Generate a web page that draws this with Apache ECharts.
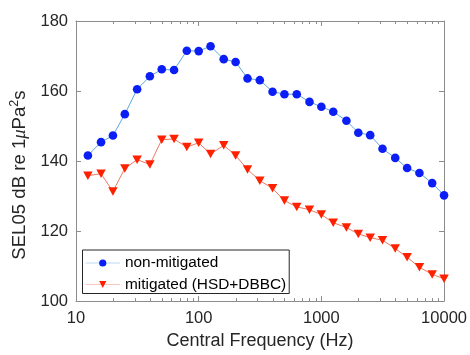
<!DOCTYPE html>
<html><head><meta charset="utf-8">
<script src="https://cdn.jsdelivr.net/npm/echarts@6/dist/echarts.min.js"></script>
<style>html,body{margin:0;padding:0;background:#fff}#c{width:470px;height:355px}</style>
</head><body><div id="c"></div>
<script>
const frequencies = [12.5,16,20,25,31.5,40,50,63,80,100,125,160,200,250,315,400,500,630,800,1000,1250,1600,2000,2500,3150,4000,5000,6300,8000,10000];
const nonMitigated = [141.6,145.4,147.3,153.4,160.5,164.2,166.2,166.0,171.5,171.4,172.8,169.1,168.3,163.6,163.1,159.8,159.1,159.1,156.9,155.5,154.1,151.5,148.1,147.4,143.5,140.9,138.0,136.6,133.7,130.2];
const mitigated = [135.8,136.4,131.3,137.9,140.4,139.0,146.1,146.3,144.0,145.2,142.0,144.5,141.6,137.6,134.4,132.2,128.7,126.9,126.1,124.7,122.4,121.0,119.2,118.1,117.4,115.0,112.5,109.7,107.6,106.4];
const seriesNames = ['non-mitigated','mitigated (HSD+DBBC)'];
const xRange = [10, 10000];
const yRange = [100, 180];
const yStep = 20;
const xTitle = 'Central Frequency (Hz)';

const FONT = 'Arial, "Liberation Sans", sans-serif';
const AX = '#8c8c8c';
const TXT = '#262626';

const chart = echarts.init(document.getElementById('c'), null, {renderer: 'canvas'});

function xAxisDef(pos, showLabel, showName) {
  return {
    type: 'log', logBase: 10, min: xRange[0], max: xRange[1], position: pos,
    axisLine: {show: true, lineStyle: {color: AX, width: 1}},
    axisTick: {show: true, inside: true, length: 5, lineStyle: {color: AX}},
    axisLabel: {show: showLabel, color: TXT, fontFamily: FONT, fontSize: 16.5, margin: 9,
      formatter: v => String(Math.round(v))},
    splitLine: {show: false},
    name: showName ? xTitle : '', nameLocation: 'middle', nameGap: 26,
    nameTextStyle: {color: TXT, fontFamily: FONT, fontSize: 18}
  };
}
function yAxisDef(pos, showLabel, showName) {
  return {
    type: 'value', min: yRange[0], max: yRange[1], interval: yStep, position: pos,
    axisLine: {show: true, lineStyle: {color: AX, width: 1}},
    axisTick: {show: true, inside: true, length: 5, lineStyle: {color: AX}},
    axisLabel: {show: showLabel, color: TXT, fontFamily: FONT, fontSize: 16.5, margin: 8},
    splitLine: {show: false},
    name: showName ? '{a|SEL05 dB re 1}{mu|μ}{a|Pa}{sup|2}{a|s}' : '',
    nameLocation: 'middle', nameGap: 44, nameRotate: 90,
    nameTextStyle: {
      color: TXT, fontFamily: FONT, fontSize: 18.6, padding: [0, 28, 0, 0],
      rich: {
        a: {fontFamily: FONT, fontSize: 18.6, color: TXT, lineHeight: 24, verticalAlign: 'middle'},
        mu: {fontFamily: '"Liberation Serif", "DejaVu Serif", serif', fontStyle: 'italic', fontSize: 18.6, color: TXT, lineHeight: 24, verticalAlign: 'middle'},
        sup: {fontFamily: FONT, fontSize: 12.5, color: TXT, lineHeight: 13, verticalAlign: 'top'}
      }
    }
  };
}

const option = {
  animation: false,
  backgroundColor: '#fff',
  grid: {left: 73, right: 24, top: 21, bottom: 51},
  xAxis: [xAxisDef('bottom', true, true), xAxisDef('top', false, false)],
  yAxis: [yAxisDef('left', true, true), yAxisDef('right', false, false)],
  legend: {
    orient: 'vertical', left: 82.5, top: 250,
    padding: [4, 3, 0, 2.5], itemGap: 3.5,
    itemWidth: 34.5, itemHeight: 9,
    borderColor: '#262626', borderWidth: 1, backgroundColor: '#fff',
    textStyle: {color: '#000', fontFamily: FONT, fontSize: 15.4, lineHeight: 18},
    data: [
      {name: seriesNames[0], lineStyle: {color: '#b9dbf3', width: 1}},
      {name: seriesNames[1], lineStyle: {color: '#f8c8bc', width: 1}}
    ]
  },
  series: [
    {
      name: seriesNames[0], type: 'line',
      data: frequencies.map((f, i) => [f, nonMitigated[i]]),
      symbol: 'circle', symbolSize: 8.6,
      itemStyle: {color: '#0a1ef5'},
      lineStyle: {color: '#5aa8e0', width: 1},
      z: 3
    },
    {
      name: seriesNames[1], type: 'line',
      data: frequencies.map((f, i) => [f, mitigated[i]]),
      symbol: 'triangle', symbolRotate: 180, symbolSize: [9.5, 8.5],
      itemStyle: {color: '#ff2000'},
      lineStyle: {color: '#ec7a62', width: 1},
      z: 3
    }
  ]
};
chart.setOption(option);

// log-scale minor ticks (2..9 per decade) on bottom and top axes
const minorTicks = [];
const yBot = chart.convertToPixel({yAxisIndex: 0}, yRange[0]);
const yTop = chart.convertToPixel({yAxisIndex: 0}, yRange[1]);
for (let d = xRange[0]; d < xRange[1]; d *= 10) {
  for (let k = 2; k <= 9; k++) {
    const x = Math.round(chart.convertToPixel({xAxisIndex: 0}, k * d)) + 0.5;
    minorTicks.push({type: 'line', shape: {x1: x, y1: yBot, x2: x, y2: yBot - 3}, style: {stroke: AX, lineWidth: 1}, silent: true});
    minorTicks.push({type: 'line', shape: {x1: x, y1: yTop, x2: x, y2: yTop + 3}, style: {stroke: AX, lineWidth: 1}, silent: true});
  }
}
chart.setOption({graphic: minorTicks});
</script>
</body></html>
